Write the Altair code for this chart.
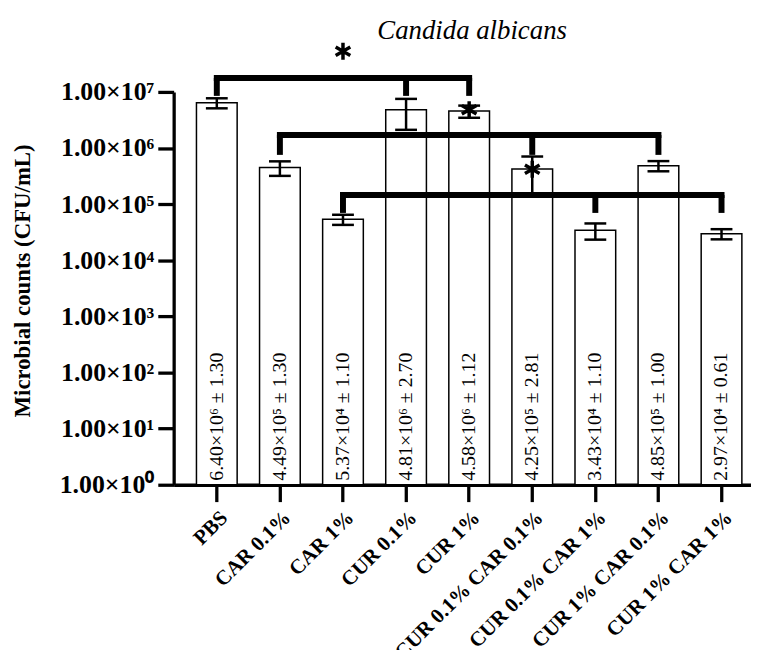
import json
import altair as alt
import pandas as pd

# ---------------- data ----------------
categories = ["PBS", "CAR 0.1%", "CAR 1%", "CUR 0.1%", "CUR 1%",
              "CUR 0.1% CAR 0.1%", "CUR 0.1% CAR 1%", "CUR 1% CAR 0.1%", "CUR 1% CAR 1%"]
mantissa = [6.40, 4.49, 5.37, 4.81, 4.58, 4.25, 3.43, 4.85, 2.97]
exponent = [6, 5, 4, 6, 6, 5, 4, 5, 4]
sd_mantissa = [1.30, 1.30, 1.10, 2.70, 1.12, 2.81, 1.10, 1.00, 0.61]

y_tick_values = [1, 10, 100, 1000, 10000, 100000, 1000000, 10000000]
y_tick_labels = ["1.00×10⁰", "1.00×10¹", "1.00×10²", "1.00×10³",
                 "1.00×10⁴", "1.00×10⁵", "1.00×10⁶", "1.00×10⁷"]

# significance brackets
bracket_members = [["PBS", "CUR 0.1%", "CUR 1%"],
                   ["CAR 0.1%", "CUR 0.1% CAR 0.1%", "CUR 1% CAR 0.1%"],
                   ["CAR 1%", "CUR 0.1% CAR 1%", "CUR 1% CAR 1%"]]
bracket_level = [1.77e7, 1.70e6, 1.45e5]
bracket_drop_to = [8.5e6, 7.55e5, 6.98e4]
star_category = ["CAR 1%", "CUR 1%", "CUR 0.1% CAR 0.1%"]
star_level = [5.3e7, 4.8e6, 4.18e5]

title_text = ["Candida albicans"]
title_category = ["CUR 1%"]
title_level = [8.65e7]
y_title = "Microbial counts (CFU/mL)"

# ---------------- tables ----------------
SUP = str.maketrans("0123456789", "⁰¹²³⁴⁵⁶⁷⁸⁹")
bars = pd.DataFrame({
    "cat": categories,
    "mean": [m * 10 ** e for m, e in zip(mantissa, exponent)],
    "lo": [(m - s) * 10 ** e for m, e, s in zip(mantissa, exponent, sd_mantissa)],
    "hi": [(m + s) * 10 ** e for m, e, s in zip(mantissa, exponent, sd_mantissa)],
    "label": [f"{m:.2f}×10{str(e).translate(SUP)} ± {s:.2f}"
              for m, e, s in zip(mantissa, exponent, sd_mantissa)],
})

hbr = pd.DataFrame({
    "cat": [g[0] for g in bracket_members],
    "end": [g[-1] for g in bracket_members],
    "level": bracket_level,
})
drops = pd.DataFrame([
    {"cat": c, "level": lv, "to": dt}
    for g, lv, dt in zip(bracket_members, bracket_level, bracket_drop_to)
    for c in g
])
stars = pd.DataFrame({"cat": star_category, "level": star_level})
title_df = pd.DataFrame({"cat": title_category, "level": title_level, "text": title_text})

SERIF = "Liberation Serif"

xscale = alt.Scale(domain=categories, paddingInner=0.355, paddingOuter=0.253, align=0.714)
yscale = alt.Scale(type="log", domain=[1, 1e7], nice=False)

x_axis = alt.Axis(
    title=None, labelAngle=-45, labelAlign="right", labelBaseline="top",
    labelFont=SERIF, labelFontWeight="bold", labelFontSize=21, labelPadding=5,
    labelLimit=400, tickSize=17, tickWidth=3.3, domainWidth=3.3, labelOverlap=False,
)
y_axis = alt.Axis(
    title=y_title, values=y_tick_values,
    labelExpr=json.dumps(y_tick_labels, ensure_ascii=False) + "[round(log(datum.value)/LN10)]",
    labelFont=SERIF, labelFontWeight="bold", labelFontSize=26, labelPadding=4,
    labelFlush=False, labelOverlap=False,
    tickSize=16, tickWidth=3.3, domainWidth=3.3,
    titleFont=SERIF, titleFontWeight="bold", titleFontSize=23,
    titleAngle=270, titleAlign="center", titleBaseline="alphabetic",
    titleX=-145, titleY=190, grid=False,
)


def xenc():
    return alt.X("cat:N", scale=xscale, axis=x_axis, sort=None)


def yenc(field):
    return alt.Y(f"{field}:Q", scale=yscale, axis=y_axis)


bar_layer = alt.Chart(bars).mark_bar(fill="white", stroke="black", strokeWidth=1.5).encode(
    x=xenc(), y=yenc("mean"), y2=alt.datum(1),
)

err_rule = alt.Chart(bars).mark_rule(color="black", strokeWidth=2.5).encode(
    x=xenc(), y=yenc("lo"), y2="hi:Q"
)
cap_lo = alt.Chart(bars).mark_tick(color="black", thickness=2.5, size=22, opacity=1).encode(
    x=xenc(), y=yenc("lo")
)
cap_hi = alt.Chart(bars).mark_tick(color="black", thickness=2.5, size=22, opacity=1).encode(
    x=xenc(), y=yenc("hi")
)

labels = alt.Chart(bars).mark_text(
    angle=270, align="left", baseline="middle", dx=4,
    font=SERIF, fontSize=20, color="black"
).encode(x=xenc(), y=alt.datum(1), text="label:N")

h_rules = alt.Chart(hbr).mark_rule(color="black", strokeWidth=6, strokeCap="square").encode(
    x=xenc(), x2="end:N", y=yenc("level")
)
v_rules = alt.Chart(drops).mark_rule(color="black", strokeWidth=6).encode(
    x=xenc(), y=yenc("level"), y2="to:Q"
)
star_layer = alt.Chart(stars).mark_point(
    shape="M0,-1L0,1M-0.866,-0.5L0.866,0.5M-0.866,0.5L0.866,-0.5",
    size=289, filled=False, strokeWidth=3.5, color="black", opacity=1
).encode(x=xenc(), y=yenc("level"))

title_layer = alt.Chart(title_df).mark_text(
    font=SERIF, fontSize=27, fontStyle="italic", align="center",
    baseline="alphabetic", dx=3, color="black"
).encode(x=xenc(), y=yenc("level"), text="text:N")

chart = alt.layer(
    bar_layer, err_rule, cap_lo, cap_hi, labels, h_rules, v_rules, star_layer, title_layer
).properties(
    width=582, height=396,
    autosize=alt.AutoSizeParams(type="none"),
    padding={"left": 167, "top": 82, "right": 0, "bottom": 164},
    background="white",
).configure_axis(
    domainColor="black", tickColor="black", labelColor="black", titleColor="black"
).configure_view(strokeWidth=0)

chart.save("out.html", embed_options={"renderer": "svg", "actions": False})
